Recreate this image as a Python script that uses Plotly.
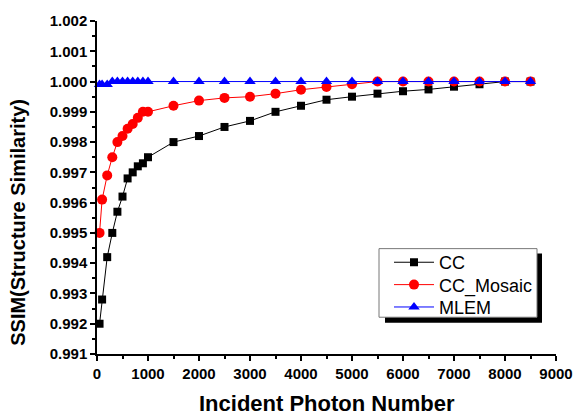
import plotly.graph_objects as go

photons = [50, 100, 200, 300, 400, 500, 600, 700, 800, 900, 1000,
           1500, 2000, 2500, 3000, 3500, 4000, 4500, 5000, 5500,
           6000, 6500, 7000, 7500, 8000, 8500]

cc = [0.9920, 0.9928, 0.9942, 0.9950, 0.9957, 0.9962, 0.9968, 0.9970, 0.9972, 0.9973, 0.9975,
      0.9980, 0.9982, 0.9985, 0.9987, 0.9990, 0.9992, 0.9994, 0.9995, 0.9996,
      0.99968, 0.99974, 0.99983, 0.99991, 1.0000, 1.0000]

cc_mosaic = [0.9950, 0.9961, 0.9969, 0.9975, 0.9980, 0.9982, 0.99844, 0.9986, 0.9988, 0.9990, 0.9990,
             0.9992, 0.99937, 0.99946, 0.9995, 0.9996, 0.99973, 0.99982, 0.99991, 1.0000,
             1.0000, 1.0000, 1.0000, 1.0000, 1.0000, 1.0000]

mlem = [0.9999, 0.9999, 0.9999, 1.0000, 1.0000, 1.0000, 1.0000, 1.0000, 1.0000, 1.0000, 1.0000,
        1.0000, 1.0000, 1.0000, 1.0000, 1.0000, 1.0000, 1.0000, 1.0000, 1.0000,
        1.0000, 1.0000, 1.0000, 1.0000, 1.0000, 1.0000]

FONT = "Liberation Sans, Arial, sans-serif"

fig = go.Figure()
fig.add_trace(go.Scatter(x=photons, y=cc, name="CC", mode="lines+markers",
                         line=dict(color="black", width=1),
                         marker=dict(symbol="square", size=8, color="black"),
                         cliponaxis=False, legend="legend"))
fig.add_trace(go.Scatter(x=photons, y=cc_mosaic, name="CC_Mosaic", mode="lines+markers",
                         line=dict(color="red", width=1),
                         marker=dict(symbol="circle", size=10, color="red"),
                         cliponaxis=False, legend="legend2"))
fig.add_trace(go.Scatter(x=photons, y=mlem, name="MLEM", mode="lines+markers",
                         line=dict(color="blue", width=1),
                         marker=dict(symbol="triangle-up", size=10, color="blue"),
                         cliponaxis=False, legend="legend3"))

axis_common = dict(showline=True, linecolor="black", linewidth=1.5,
                   ticks="outside", ticklen=5, tickwidth=1.5, tickcolor="black",
                   showgrid=False, zeroline=False, mirror=False)

fig.update_xaxes(range=[0, 9000], dtick=1000, tick0=0,
                 tickfont=dict(family=FONT, size=15, color="black", weight="bold"),
                 minor=dict(dtick=500, ticks="outside", ticklen=3, tickwidth=1.5, tickcolor="black"),
                 **axis_common)
fig.update_yaxes(range=[0.991, 1.002], dtick=0.001, tick0=0.991, tickformat=".3f",
                 tickfont=dict(family=FONT, size=15, color="black", weight="bold"),
                 minor=dict(dtick=0.0005, ticks="outside", ticklen=3, tickwidth=1.5, tickcolor="black"),
                 **axis_common)

# axis titles as annotations (pixel-placed like the reference)
W, H = 588, 419
L, R, T, B = 97, 32, 19, 65
pw, ph = W - L - R, H - T - B

def px(xp):
    return (xp - L) / pw

def py(yp):
    return (H - B - yp) / ph

fig.add_annotation(text="Incident Photon Number", xref="paper", yref="paper",
                   x=px(326.5), y=py(418), xanchor="center", yanchor="bottom",
                   showarrow=False,
                   font=dict(family=FONT, size=22, color="black", weight="bold"))
fig.add_annotation(text="SSIM(Structure Similarity)", xref="paper", yref="paper",
                   x=px(18), y=py(222), xanchor="center", yanchor="middle",
                   textangle=-90, showarrow=False,
                   font=dict(family=FONT, size=20, color="black", weight="bold"))

# legend box with drop shadow
fig.add_shape(type="rect", xref="paper", yref="paper",
              x0=px(385), x1=px(542), y0=py(322.5), y1=py(253),
              fillcolor="black", line=dict(width=0), layer="above")
fig.add_shape(type="rect", xref="paper", yref="paper",
              x0=px(379), x1=px(537), y0=py(317), y1=py(248),
              fillcolor="white", line=dict(color="#777777", width=1), layer="above")

leg_common = dict(xanchor="left", yanchor="middle", bgcolor="rgba(0,0,0,0)", borderwidth=0,
                  font=dict(family=FONT, size=18, color="black"), itemwidth=40)

fig.update_layout(
    width=W, height=H,
    margin=dict(l=L, r=R, t=T, b=B),
    paper_bgcolor="white", plot_bgcolor="white",
    showlegend=True,
    legend=dict(x=px(389), y=py(262), **leg_common),
    legend2=dict(x=px(389), y=py(284.5), **leg_common),
    legend3=dict(x=px(389), y=py(307), **leg_common),
)

fig.write_html("out.html")
